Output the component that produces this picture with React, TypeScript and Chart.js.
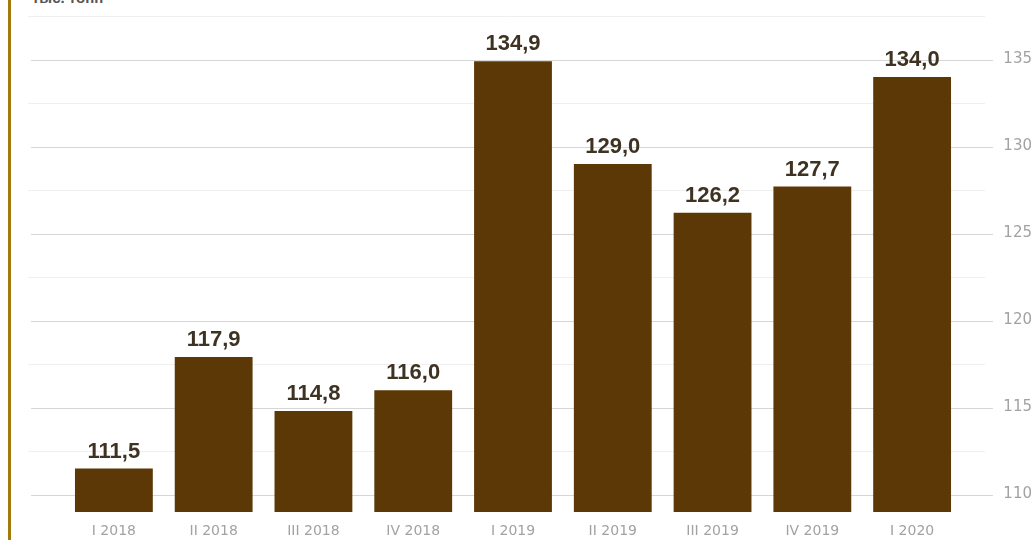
import React, { useEffect, useRef } from "react";
import { Chart, registerables } from "chart.js";

Chart.register(...registerables);

const categories = ["I 2018", "II 2018", "III 2018", "IV 2018", "I 2019", "II 2019", "III 2019", "IV 2019", "I 2020"];
const values = [111.5, 117.9, 114.8, 116.0, 134.9, 129.0, 126.2, 127.7, 134.0];
const yTicks = [110, 115, 120, 125, 130, 135];
const gridValues = [110, 112.5, 115, 117.5, 120, 122.5, 125, 127.5, 130, 132.5, 135, 137.5];

const BAR = "#5b3806";

const gridPlugin = {
  id: "customGrid",
  beforeDatasetsDraw(chart: any) {
    const ctx = chart.ctx;
    const y = chart.scales.y;
    ctx.save();
    gridValues.forEach((v) => {
      const py = Math.round(y.getPixelForValue(v)) + 0.5;
      const major = v % 5 === 0;
      ctx.strokeStyle = major ? "#d6d6d6" : "#efefef";
      ctx.lineWidth = 1;
      ctx.beginPath();
      ctx.moveTo(major ? 31 : 28, py);
      ctx.lineTo(major ? 993 : 985, py);
      ctx.stroke();
    });
    ctx.restore();
  },
};

const labelPlugin = {
  id: "valueLabels",
  afterDatasetsDraw(chart: any) {
    const ctx = chart.ctx;
    const meta = chart.getDatasetMeta(0);
    ctx.save();
    ctx.font = "bold 22px 'Liberation Sans', Arial, sans-serif";
    ctx.fillStyle = "#3e3322";
    ctx.textAlign = "center";
    ctx.textBaseline = "bottom";
    meta.data.forEach((bar: any, i: number) => {
      const txt = values[i].toFixed(1).replace(".", ",");
      ctx.fillText(txt, bar.x, bar.y - 6);
    });
    ctx.restore();
  },
};

export default function App() {
  const ref = useRef<HTMLCanvasElement>(null);
  useEffect(() => {
    if (!ref.current) return;
    const chart = new Chart(ref.current, {
      type: "bar",
      data: {
        labels: categories,
        datasets: [
          {
            data: values,
            backgroundColor: BAR,
            borderWidth: 0,
            categoryPercentage: 0.78,
            barPercentage: 1,
          },
        ],
      },
      options: {
        animation: false,
        responsive: false,
        maintainAspectRatio: false,
        layout: { autoPadding: false, padding: { left: 64, right: 3, top: 16, bottom: 0 } },
        plugins: { legend: { display: false }, tooltip: { enabled: false } },
        scales: {
          x: {
            grid: { display: false, drawTicks: false },
            border: { display: false },
            afterFit: (scale: any) => {
              scale.height = 28;
            },
            ticks: {
              color: "#a2a2a2",
              font: { size: 14, family: "'DejaVu Sans', sans-serif" },
              padding: 11,
              maxRotation: 0,
              autoSkip: false,
            },
          },
          y: {
            position: "right",
            min: 109,
            max: 137.5,
            grid: { display: false, drawTicks: false },
            border: { display: false },
            afterBuildTicks: (scale: any) => {
              scale.ticks = yTicks.map((v) => ({ value: v }));
            },
            afterFit: (scale: any) => {
              scale.width = 70;
            },
            ticks: {
              color: "#a2a2a2",
              font: { size: 15, family: "'DejaVu Sans', sans-serif" },
              padding: 0,
              crossAlign: "far",
              callback: (v: any) => String(v),
            },
          },
        },
      },
      plugins: [gridPlugin, labelPlugin],
    });
    return () => chart.destroy();
  }, []);

  return (
    <div style={{ position: "fixed", left: 0, top: 0, width: 1035, height: 540, background: "#fff", overflow: "hidden" }}>
      <div style={{ position: "absolute", left: 8, top: 0, width: 3, height: 540, background: "#a27a0c" }} />
      <div
        style={{
          position: "absolute",
          left: 32,
          top: -11,
          font: "bold 15px 'Liberation Sans', Arial, sans-serif",
          color: "#555",
          whiteSpace: "nowrap",
        }}
      >
        тыс. тонн
      </div>
      <canvas ref={ref} width={1035} height={540} style={{ position: "absolute", left: 0, top: 0 }} />
    </div>
  );
}
